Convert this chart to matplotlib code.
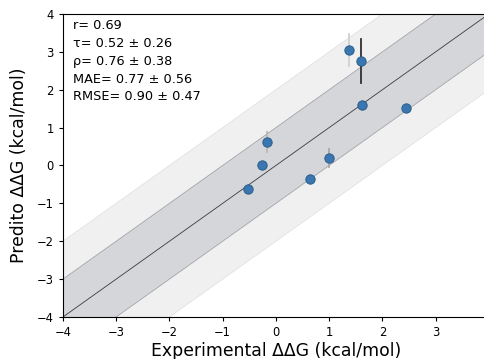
import numpy as np
import matplotlib
matplotlib.use("Agg")
import matplotlib.pyplot as plt

# experimental vs predicted ddG (kcal/mol)
exp_ddg = [-0.53, -0.26, -0.17, 0.65, 0.99, 1.37, 1.59, 1.61, 2.44]
pred_ddg = [-0.62, 0.01, 0.62, -0.36, 0.20, 3.05, 2.76, 1.60, 1.52]
pred_err = [0.05, 0.07, 0.26, 0.11, 0.23, 0.42, 0.59, 0.14, 0.05]
err_colors = ["#e0e0e0", "#d8d8d8", "#b8b8b8", "#c8c8c8", "#a8a8a8",
              "#d0d0d0", "#303030", "#d0d0d0", "#e4e4e4"]

stats_lines = ["r= 0.69", "τ= 0.52 ± 0.26", "ρ= 0.76 ± 0.38",
               "MAE= 0.77 ± 0.56", "RMSE= 0.90 ± 0.47"]

lim = (-4, 4)

fig = plt.figure(figsize=(4.84, 3.59), dpi=100)
ax = fig.add_axes([0.130, 0.117, 0.880, 0.844])

line = np.array(lim)
ax.fill_between(line, line - 2, line + 2, color="#f0f0f0", lw=0, zorder=0)
ax.fill_between(line, line - 1, line + 1, color="#d4d6d9", lw=0, zorder=0)
for off, c in [(2, "#e2e2e2"), (-2, "#e2e2e2"), (1, "#a3a5a8"), (-1, "#a3a5a8")]:
    ax.plot(line, line + off, color=c, lw=0.6, zorder=1)
ax.plot(line, line, color="#3a3a3a", lw=0.6, zorder=1)

for x, y, e, c in zip(exp_ddg, pred_ddg, pred_err, err_colors):
    ax.plot([x, x], [y - e, y + e], color=c, lw=1.3, zorder=2)
ax.scatter(exp_ddg, pred_ddg, s=45, color="#3a77b1", edgecolors="#2b5d8c",
           linewidths=0.7, zorder=3)

ax.text(0.023, 0.982, "\n".join(stats_lines), transform=ax.transAxes,
        va="top", ha="left", fontsize=9.3, linespacing=1.47)

ax.set_xlim(lim)
ax.set_ylim(lim)
ax.set_xticks(range(-4, 4))
ax.set_yticks(range(-4, 5))
ax.tick_params(labelsize=8.3, length=3, width=0.8)
ax.set_xlabel("Experimental ΔΔG (kcal/mol)", fontsize=12.4, labelpad=2)
ax.set_ylabel("Predito ΔΔG (kcal/mol)", fontsize=12.4)
ax.yaxis.set_label_coords(-0.083, 0.5)

fig.savefig("out.png", dpi=100)
